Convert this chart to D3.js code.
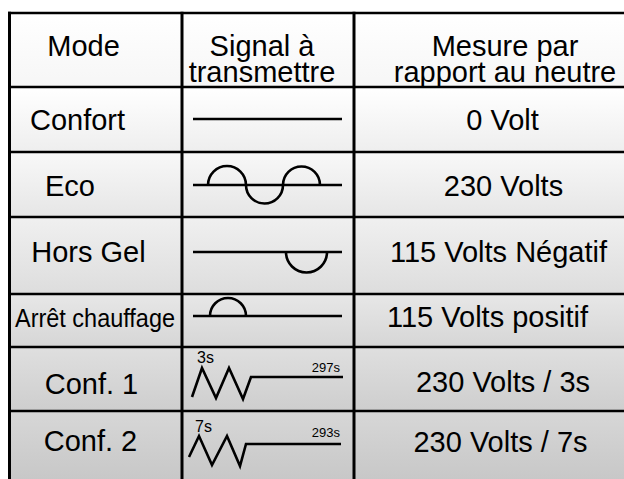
<!DOCTYPE html>
<html lang="fr">
<head>
<meta charset="utf-8">
<script src="https://d3js.org/d3.v7.min.js"></script>
<style>
  body { margin: 0; background: #fff; }
  text { font-family: "Liberation Sans", Arial, sans-serif; fill: #000; }
</style>
</head>
<body>
<script>
// ---- data ----
var headers = [["Mode"], ["Signal à", "transmettre"], ["Mesure par", "rapport au neutre"]];
var modes = ["Confort", "Eco", "Hors Gel", "Arrêt chauffage", "Conf. 1", "Conf. 2"];
var mesures = ["0 Volt", "230 Volts", "115 Volts Négatif", "115 Volts positif", "230 Volts / 3s", "230 Volts / 7s"];

// half waves: [start, end, sign] in signal units (0 = start of the trace)
var halfWaves = [
  [],
  [[15, 53, 1], [53, 90, -1], [90, 127, 1]],
  [[93, 134, -1]],
  [[17, 53, 1]],
  [],
  []
];

// pulse trains: [t, v] points, v in amplitude units
var pulses = [
  null, null, null, null,
  [[-1, -1.0], [9, 0.45], [23, -1.05], [36, 0.45], [50, -1.1], [58, 0], [150, 0]],
  [[-4, -0.65], [6, 0.4], [19, -1.05], [34, 0.4], [47, -1.1], [53, 0], [148, 0]]
];

// duration labels: [text, t, v, anchor]
var pulseLabels = [
  null, null, null, null,
  [["3s", 4, 0.7, "start", "big"], ["297s", 147, 0.25, "end", "small"]],
  [["7s", 2, 0.6, "start", "big"], ["293s", 147, 0.35, "end", "small"]]
];

// ---- layout ----
var W = 624, H = 479;
var rowEdges = [13, 87, 152, 217, 294, 347, 411, 495];
var colEdges = [9.5, 182, 354, 640];
var headerX = [83.5, 262, 505];
var headerY = [56, 82];
var modeX = [77.5, 70, 88.5, 95, 91.5, 90.5];
var mesureX = [502.5, 503.5, 498.5, 487.5, 503, 500.5];
var textDy = [43, 44, 45, 33, 47, 40];
var mesureDy = [43, 44, 45, 33, 45, 41];
var signalDy = [32, 33, 35, 22, 30, 33];

var svg = d3.select("body").append("svg")
  .attr("width", W)
  .attr("height", H);

var tone = d3.scaleLinear()
  .domain([rowEdges[0], H])
  .range(["#ffffff", "#c6c6c6"]);

var defs = svg.append("defs");

// row backgrounds
rowEdges.slice(0, -1).forEach(function(top, i) {
  var bottom = rowEdges[i + 1];
  var g = defs.append("linearGradient")
    .attr("id", "row" + i)
    .attr("x1", 0).attr("y1", 0).attr("x2", 0).attr("y2", 1);
  g.append("stop").attr("offset", 0).attr("stop-color", d3.color(tone(top)).brighter(0.12));
  g.append("stop").attr("offset", 1).attr("stop-color", tone(bottom));
  svg.append("rect")
    .attr("x", colEdges[0])
    .attr("y", top)
    .attr("width", W - colEdges[0])
    .attr("height", bottom - top)
    .attr("fill", "url(#row" + i + ")");
});

// grid lines
var grid = svg.append("g").attr("stroke", "#000");
grid.selectAll("line.h")
  .data(rowEdges.slice(0, -1))
  .enter().append("line")
    .attr("class", "h")
    .attr("x1", colEdges[0] - 1.5)
    .attr("x2", W)
    .attr("y1", d => d)
    .attr("y2", d => d)
    .attr("stroke-width", 2.6);
grid.selectAll("line.v")
  .data(colEdges.slice(0, -1))
  .enter().append("line")
    .attr("class", "v")
    .attr("x1", d => d)
    .attr("x2", d => d)
    .attr("y1", rowEdges[0] - 1.3)
    .attr("y2", H)
    .attr("stroke-width", 3);

// header
var head = svg.append("g")
  .attr("font-size", 29)
  .attr("text-anchor", "middle");
headers.forEach(function(lines, c) {
  lines.forEach(function(t, k) {
    head.append("text")
      .attr("x", headerX[c])
      .attr("y", lines.length == 1 ? headerY[0] : headerY[k])
      .text(t);
  });
});

// mode / mesure columns
var body = svg.append("g")
  .attr("font-size", 29)
  .attr("text-anchor", "middle");

body.selectAll("text.mode")
  .data(modes)
  .enter().append("text")
    .attr("class", "mode")
    .attr("x", (d, i) => modeX[i])
    .attr("y", (d, i) => rowEdges[i + 1] + textDy[i])
    .attr("font-size", d => d.length > 12 ? 26 : 29)
    .attr("textLength", d => d.length > 12 ? 160 : null)
    .attr("lengthAdjust", "spacingAndGlyphs")
    .text(d => d);

body.selectAll("text.mesure")
  .data(mesures)
  .enter().append("text")
    .attr("class", "mesure")
    .attr("x", (d, i) => mesureX[i])
    .attr("y", (d, i) => rowEdges[i + 1] + mesureDy[i])
    .text(d => d);

// signals
var sx = d3.scaleLinear().domain([0, 149]).range([colEdges[1] + 11, colEdges[1] + 160]);
var sig = svg.append("g")
  .attr("fill", "none")
  .attr("stroke", "#000")
  .attr("stroke-width", 2.6);

modes.forEach(function(m, i) {
  var base = rowEdges[i + 1] + signalDy[i];
  var sy = d3.scaleLinear().domain([-1, 1]).range([base + 20, base - 20]);

  if (pulses[i]) {
    sig.append("path")
      .attr("stroke-linejoin", "miter")
      .attr("d", d3.line().x(d => sx(d[0])).y(d => sy(d[1]))(pulses[i]));
    pulseLabels[i].forEach(function(l) {
      svg.append("text")
        .attr("x", sx(l[1]))
        .attr("y", sy(l[2]))
        .attr("text-anchor", l[3])
        .attr("font-size", l[4] == "big" ? 16 : 13)
        .text(l[0]);
    });
    return;
  }

  sig.append("line")
    .attr("x1", sx(0)).attr("x2", sx(149))
    .attr("y1", sy(0)).attr("y2", sy(0));

  halfWaves[i].forEach(function(h) {
    var x0 = sx(h[0]), x1 = sx(h[1]), r = (x1 - x0) / 2;
    sig.append("path")
      .attr("d", "M" + x0 + "," + sy(0) + "A" + r + "," + r + " 0 0 " + (h[2] > 0 ? 1 : 0) + " " + x1 + "," + sy(0));
  });
});
</script>
</body>
</html>
